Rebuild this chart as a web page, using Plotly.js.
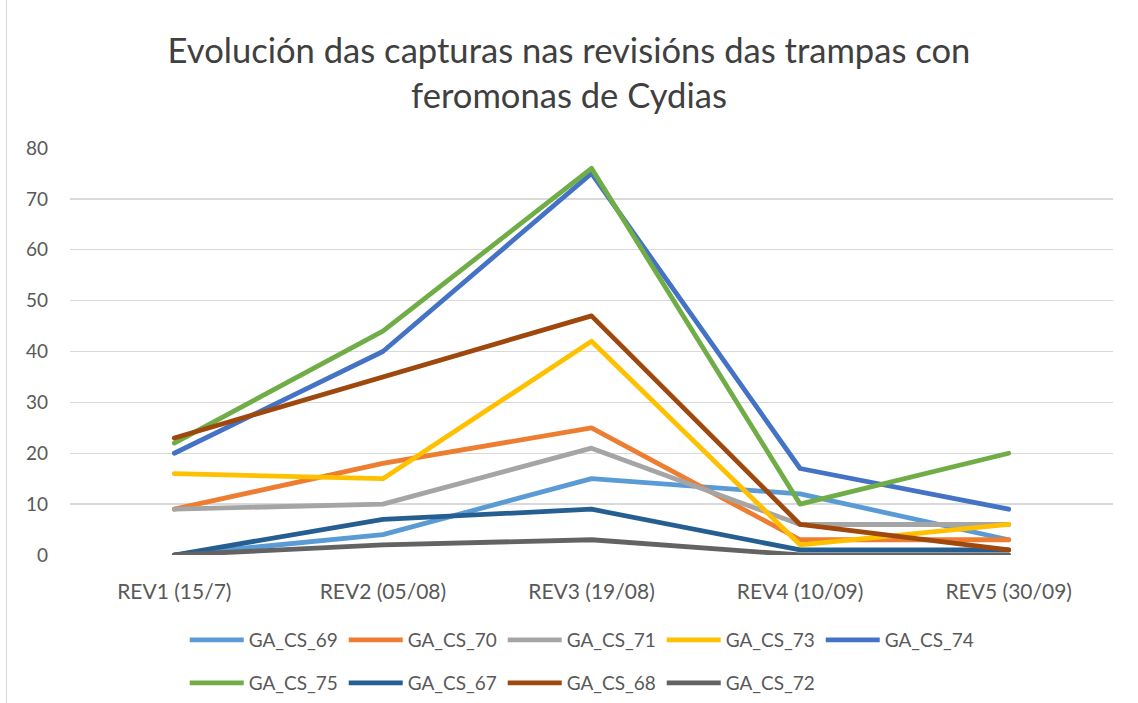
<!DOCTYPE html>
<html>
<head>
<meta charset="utf-8">
<script src="https://cdn.plot.ly/plotly-3.0.1.min.js"></script>
<style>
html,body{margin:0;padding:0;background:#fff;}
#chart{width:1138px;height:703px;position:relative;}
#edge{position:absolute;left:6px;top:0;width:1px;height:703px;background:#d9d9d9;z-index:5;}
#chart .scatterlayer path.js-line{stroke-linecap:round;stroke-linejoin:round;}
</style>
</head>
<body>
<div id="edge"></div>
<div id="chart"></div>
<script>
var categories = ["REV1 (15/7)", "REV2 (05/08)", "REV3 (19/08)", "REV4 (10/09)", "REV5 (30/09)"];
var seriesNames = ["GA_CS_69", "GA_CS_70", "GA_CS_71", "GA_CS_73", "GA_CS_74", "GA_CS_75", "GA_CS_67", "GA_CS_68", "GA_CS_72"];
var GA_CS_69 = [0, 4, 15, 12, 3];
var GA_CS_70 = [9, 18, 25, 3, 3];
var GA_CS_71 = [9, 10, 21, 6, 6];
var GA_CS_73 = [16, 15, 42, 2, 6];
var GA_CS_74 = [20, 40, 75, 17, 9];
var GA_CS_75 = [22, 44, 76, 10, 20];
var GA_CS_67 = [0, 7, 9, 1, 1];
var GA_CS_68 = [23, 35, 47, 6, 1];
var GA_CS_72 = [0, 2, 3, 0, 0];
var yTicks = [0, 10, 20, 30, 40, 50, 60, 70, 80];

var seriesValues = [GA_CS_69, GA_CS_70, GA_CS_71, GA_CS_73, GA_CS_74, GA_CS_75, GA_CS_67, GA_CS_68, GA_CS_72];
var colors = ["#5B9BD5", "#ED7D31", "#A5A5A5", "#FFC000", "#4472C4", "#70AD47", "#255E91", "#9E480E", "#636363"];

var traces = seriesNames.map(function(n, i){
  return {
    type: "scatter", mode: "lines", name: n,
    x: categories, y: seriesValues[i],
    line: {color: colors[i], width: 4.8},
    legend: i < 5 ? "legend" : "legend2"
  };
});

var FONT = "Lato, 'Liberation Sans', sans-serif";
var legendCommon = {
  orientation: "h", xanchor: "left", yanchor: "middle",
  font: {family: FONT, size: 19, color: "#595959"},
  itemwidth: 54,
  entrywidth: 90, entrywidthmode: "pixels",
  bgcolor: "rgba(0,0,0,0)", tracegroupgap: 0
};

var layout = {
  width: 1138, height: 703,
  margin: {l: 70, r: 25, t: 148, b: 148, autoexpand: false},
  paper_bgcolor: "#fff", plot_bgcolor: "#fff",
  title: {
    text: "Evolución das capturas nas revisións das trampas con<br>feromonas de Cydias",
    font: {family: FONT, size: 34.6, color: "#404040"},
    x: 0.5, xanchor: "center", y: 0.91, yanchor: "middle"
  },
  xaxis: {
    type: "category", range: [-0.5, 4.5],
    showgrid: false, zeroline: false, showline: false,
    ticks: "", ticklabelstandoff: 22,
    tickfont: {family: FONT, size: 21, color: "#595959"},
    fixedrange: true
  },
  yaxis: {
    range: [0, 80], tickvals: yTicks, ticktext: yTicks.map(String),
    showgrid: true, gridcolor: "#d9d9d9", gridwidth: 1.3,
    zeroline: false, showline: false, ticks: "", ticklabelstandoff: 21,
    tickfont: {family: FONT, size: 19, color: "#595959"}
  },
  legend: Object.assign({x: 0.11, y: -0.209}, legendCommon),
  legend2: Object.assign({x: 0.11, y: -0.3145}, legendCommon),
  showlegend: true
};

Plotly.newPlot("chart", traces, layout, {displayModeBar: false, staticPlot: true});
</script>
</body>
</html>
